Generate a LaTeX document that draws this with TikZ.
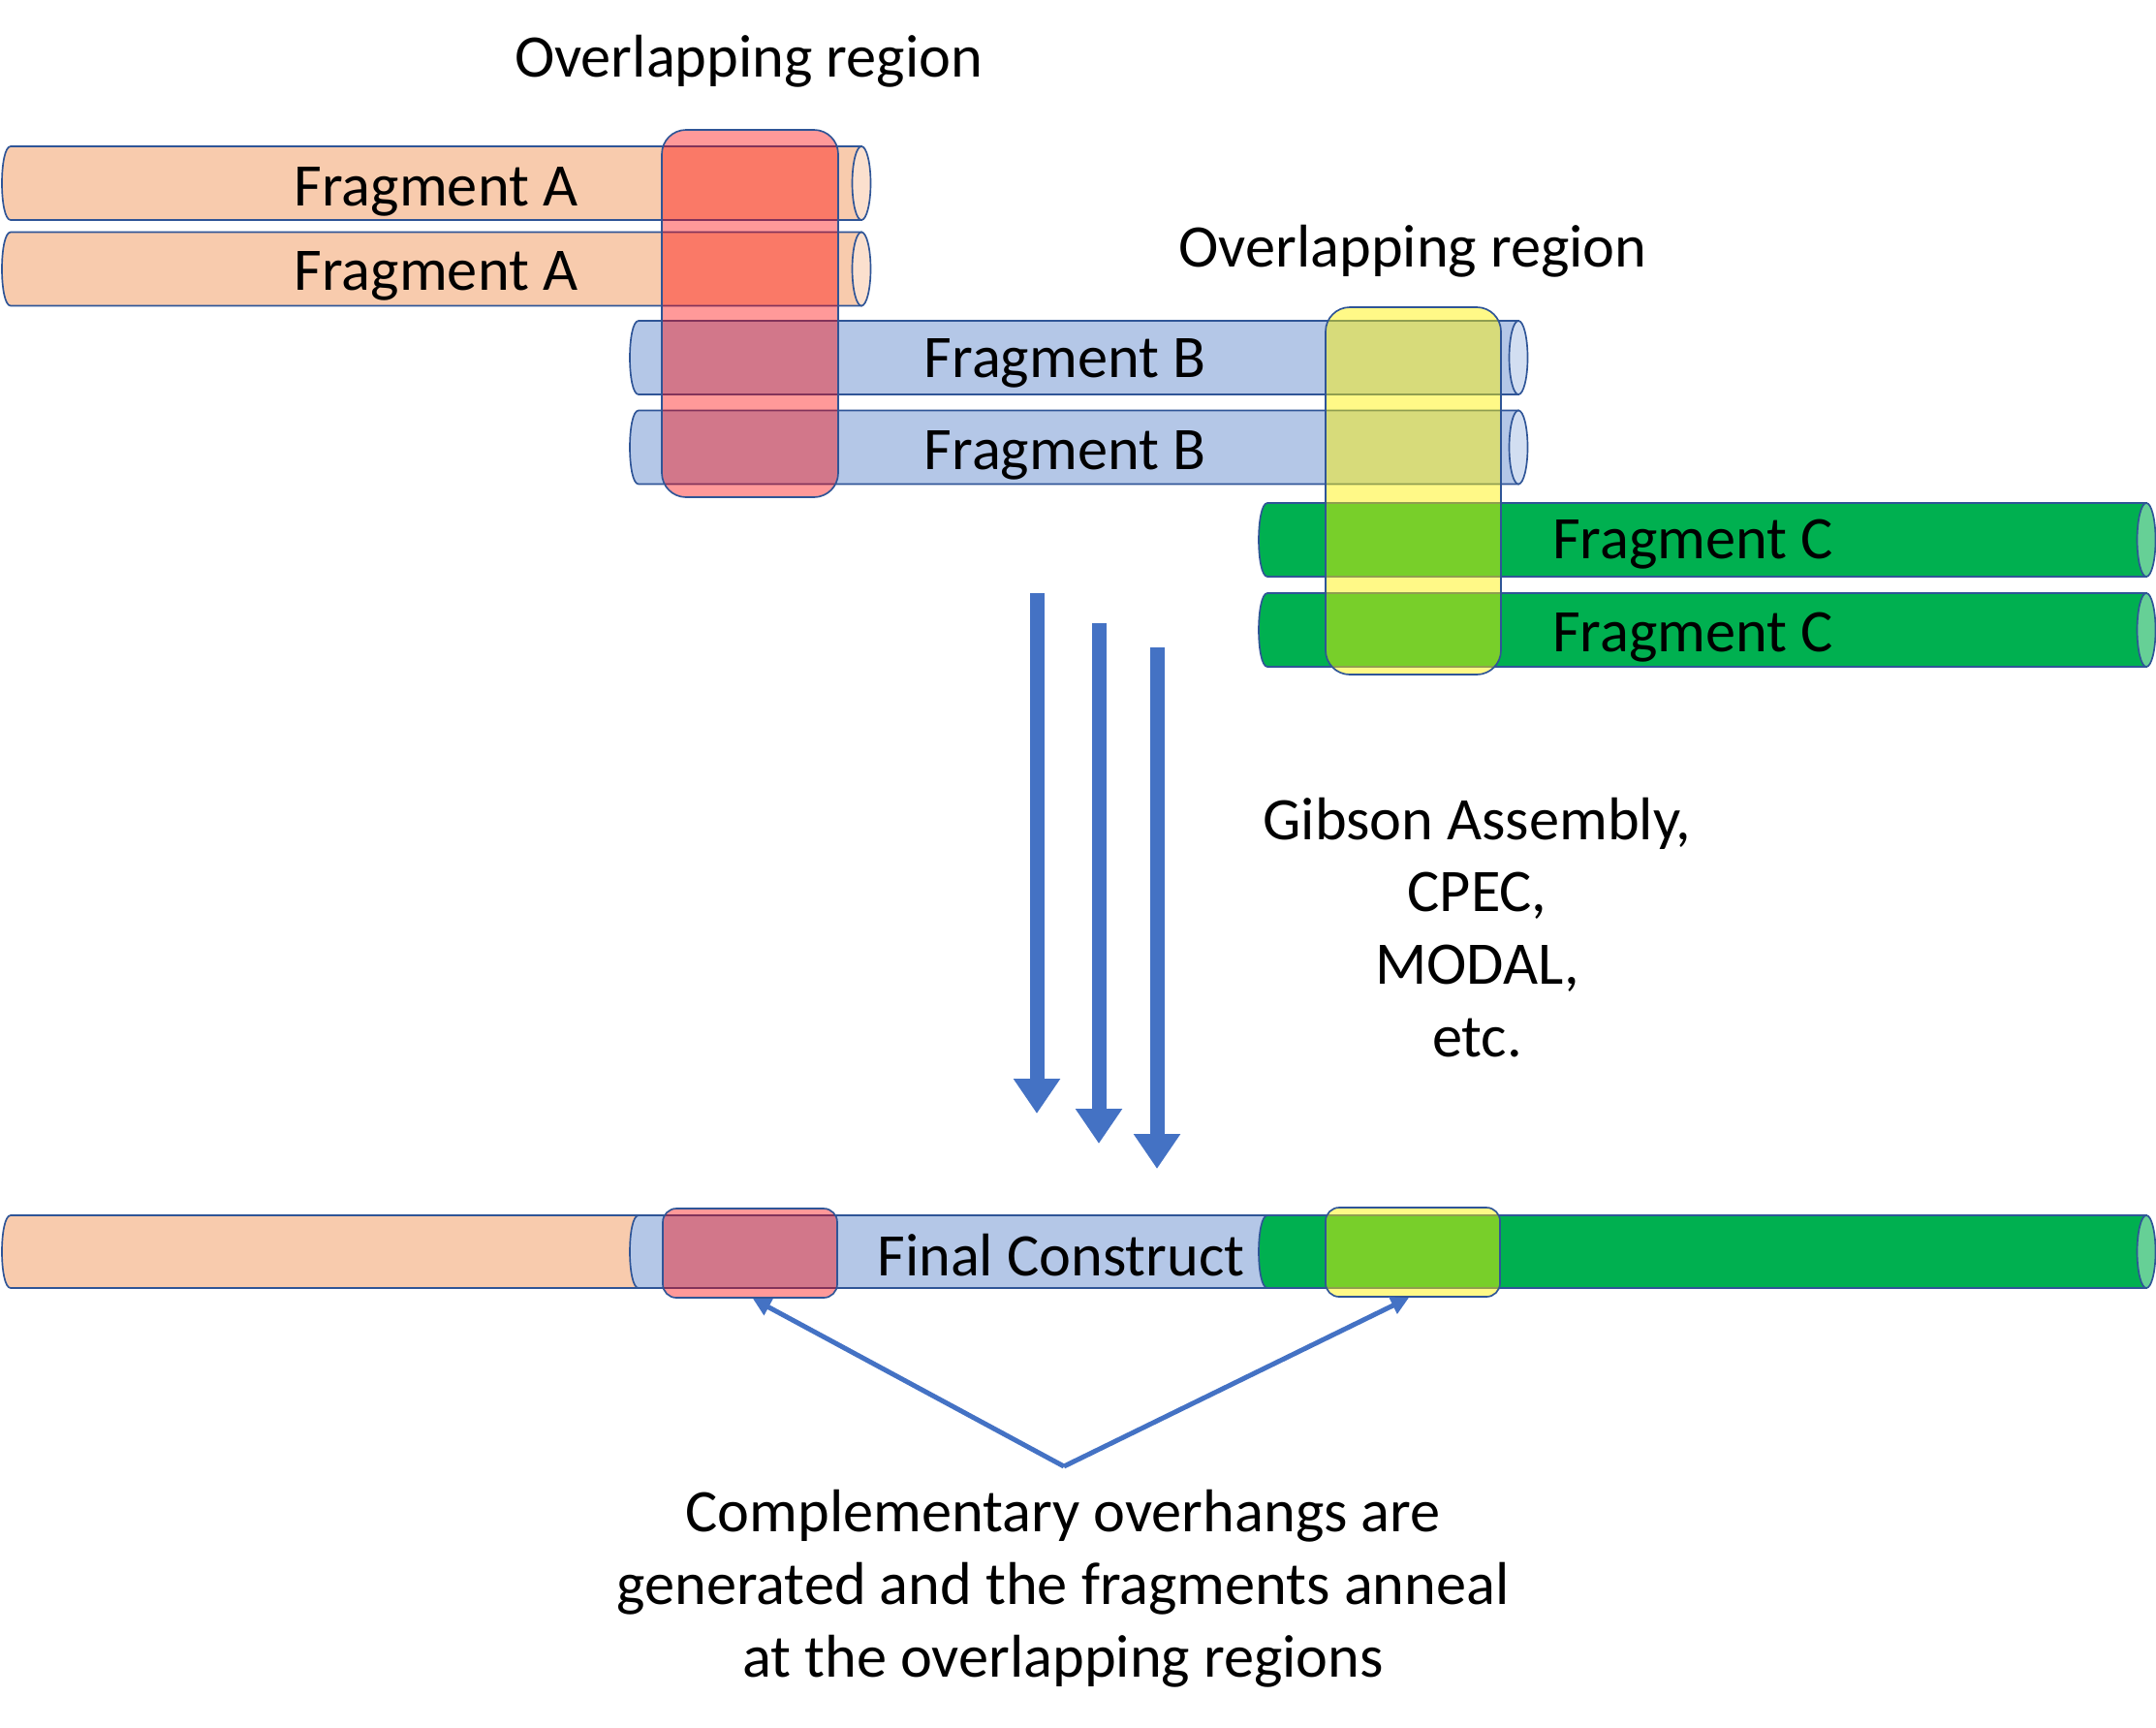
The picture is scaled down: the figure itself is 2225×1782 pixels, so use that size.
\documentclass[tikz,border=0pt]{standalone}
\usepackage{fontspec}
\setmainfont{Carlito}
\usetikzlibrary{arrows.meta}
\definecolor{outl}{HTML}{2F5597}
\definecolor{orbody}{HTML}{F8CBAD}
\definecolor{orend}{HTML}{FBE0CE}
\definecolor{blbody}{HTML}{B4C7E7}
\definecolor{blend}{HTML}{D2DEF1}
\definecolor{grbody}{HTML}{00B050}
\definecolor{grend}{HTML}{66D096}
\definecolor{arrowblue}{HTML}{4472C4}
\newcommand\fragbar[6]{%
  \path[barline,fill=#5] (#1,#3) -- (#2,#3) -- (#2,#4) -- (#1,#4) .. controls (#1-12,#4) and (#1-12,#3) .. cycle;
  \path[barline,fill=#6] (#2,{(#3+#4)/2}) ellipse [x radius=9.5, y radius={(#4-#3)/2}];
}
\begin{document}
\begin{tikzpicture}[x=0.3pt,y=-0.3pt,
  barline/.style={draw=outl,line width=0.5pt},
  lbl/.style={font=\fontsize{18.7}{22.4}\selectfont,inner sep=0pt,anchor=base},
  redzone/.style={draw=outl,line width=0.5pt,fill=red,fill opacity=0.4},
  yellowzone/.style={draw=outl,line width=0.5pt,fill=yellow,fill opacity=0.47},
  bigarrow/.style={arrowblue,line width=4.5pt,-{Triangle[length=10.8pt,width=13.8pt]}},
  thinarrow/.style={arrowblue,line width=1.5pt,-{Triangle[length=5.5pt,width=5.5pt]}}]
\useasboundingbox (0,0) rectangle (2225,1782);
% fragment bars
\fragbar{11}{889}{151}{227}{orbody}{orend}
\fragbar{11}{889}{239.5}{315.5}{orbody}{orend}
\fragbar{659}{1567}{331}{407}{blbody}{blend}
\fragbar{659}{1567}{423.5}{499.5}{blbody}{blend}
\fragbar{1308}{2215}{519}{595}{grbody}{grend}
\fragbar{1308}{2215}{612}{688}{grbody}{grend}
% final construct
\fragbar{11}{889}{1254}{1329}{orbody}{orend}
\fragbar{659}{1567}{1254}{1329}{blbody}{blend}
\fragbar{1308}{2215}{1254}{1329}{grbody}{grend}
% labels
\node[lbl] (tA1) at (450,212.5) {Fragment A};
\node[lbl] (tA2) at (450,299.5) {Fragment A};
\node[lbl] (tB1) at (1099,389) {Fragment B};
\node[lbl] (tB2) at (1099,484) {Fragment B};
\node[lbl] (tC1) at (1747,576.5) {Fragment C};
\node[lbl] (tC2) at (1747,672.4) {Fragment C};
\node[lbl] (tF) at (1095,1316.5) {Final Construct};
% overlapping regions
\draw[redzone,rounded corners=7.5pt] (683,134) rectangle (865,513);
\draw[yellowzone,rounded corners=7.5pt] (1368,317) rectangle (1549,696);
\draw[redzone,rounded corners=4.2pt] (684,1247) rectangle (864,1339);
\draw[yellowzone,rounded corners=4.2pt] (1368,1246) rectangle (1548,1338);
\node[lbl] (ov1) at (772.5,79.5) {Overlapping region};
\node[lbl] (ov2) at (1458,275.5) {Overlapping region};
% process arrows
\coordinate (a1s) at (1070,612);  \coordinate (a1e) at (1070,1149);
\coordinate (a2s) at (1134,643);  \coordinate (a2e) at (1134,1180);
\coordinate (a3s) at (1194,668);  \coordinate (a3e) at (1194,1206);
\draw[bigarrow] (a1s) -- (a1e);
\draw[bigarrow] (a2s) -- (a2e);
\draw[bigarrow] (a3s) -- (a3e);
\node[lbl,align=center] (meth) at (1524.5,1090) {Gibson Assembly,\\CPEC,\\MODAL,\\etc.};
% annotation arrows
\coordinate (apex) at (1098,1513);
\coordinate (tipL) at (777,1340);
\coordinate (tipR) at (1454,1339);
\draw[thinarrow] (apex) -- (tipL);
\draw[thinarrow] (apex) -- (tipR);
\node[lbl,align=center] (note) at (1097,1730) {Complementary overhangs are\\generated and the fragments anneal\\at the overlapping regions};
\end{tikzpicture}
\end{document}
